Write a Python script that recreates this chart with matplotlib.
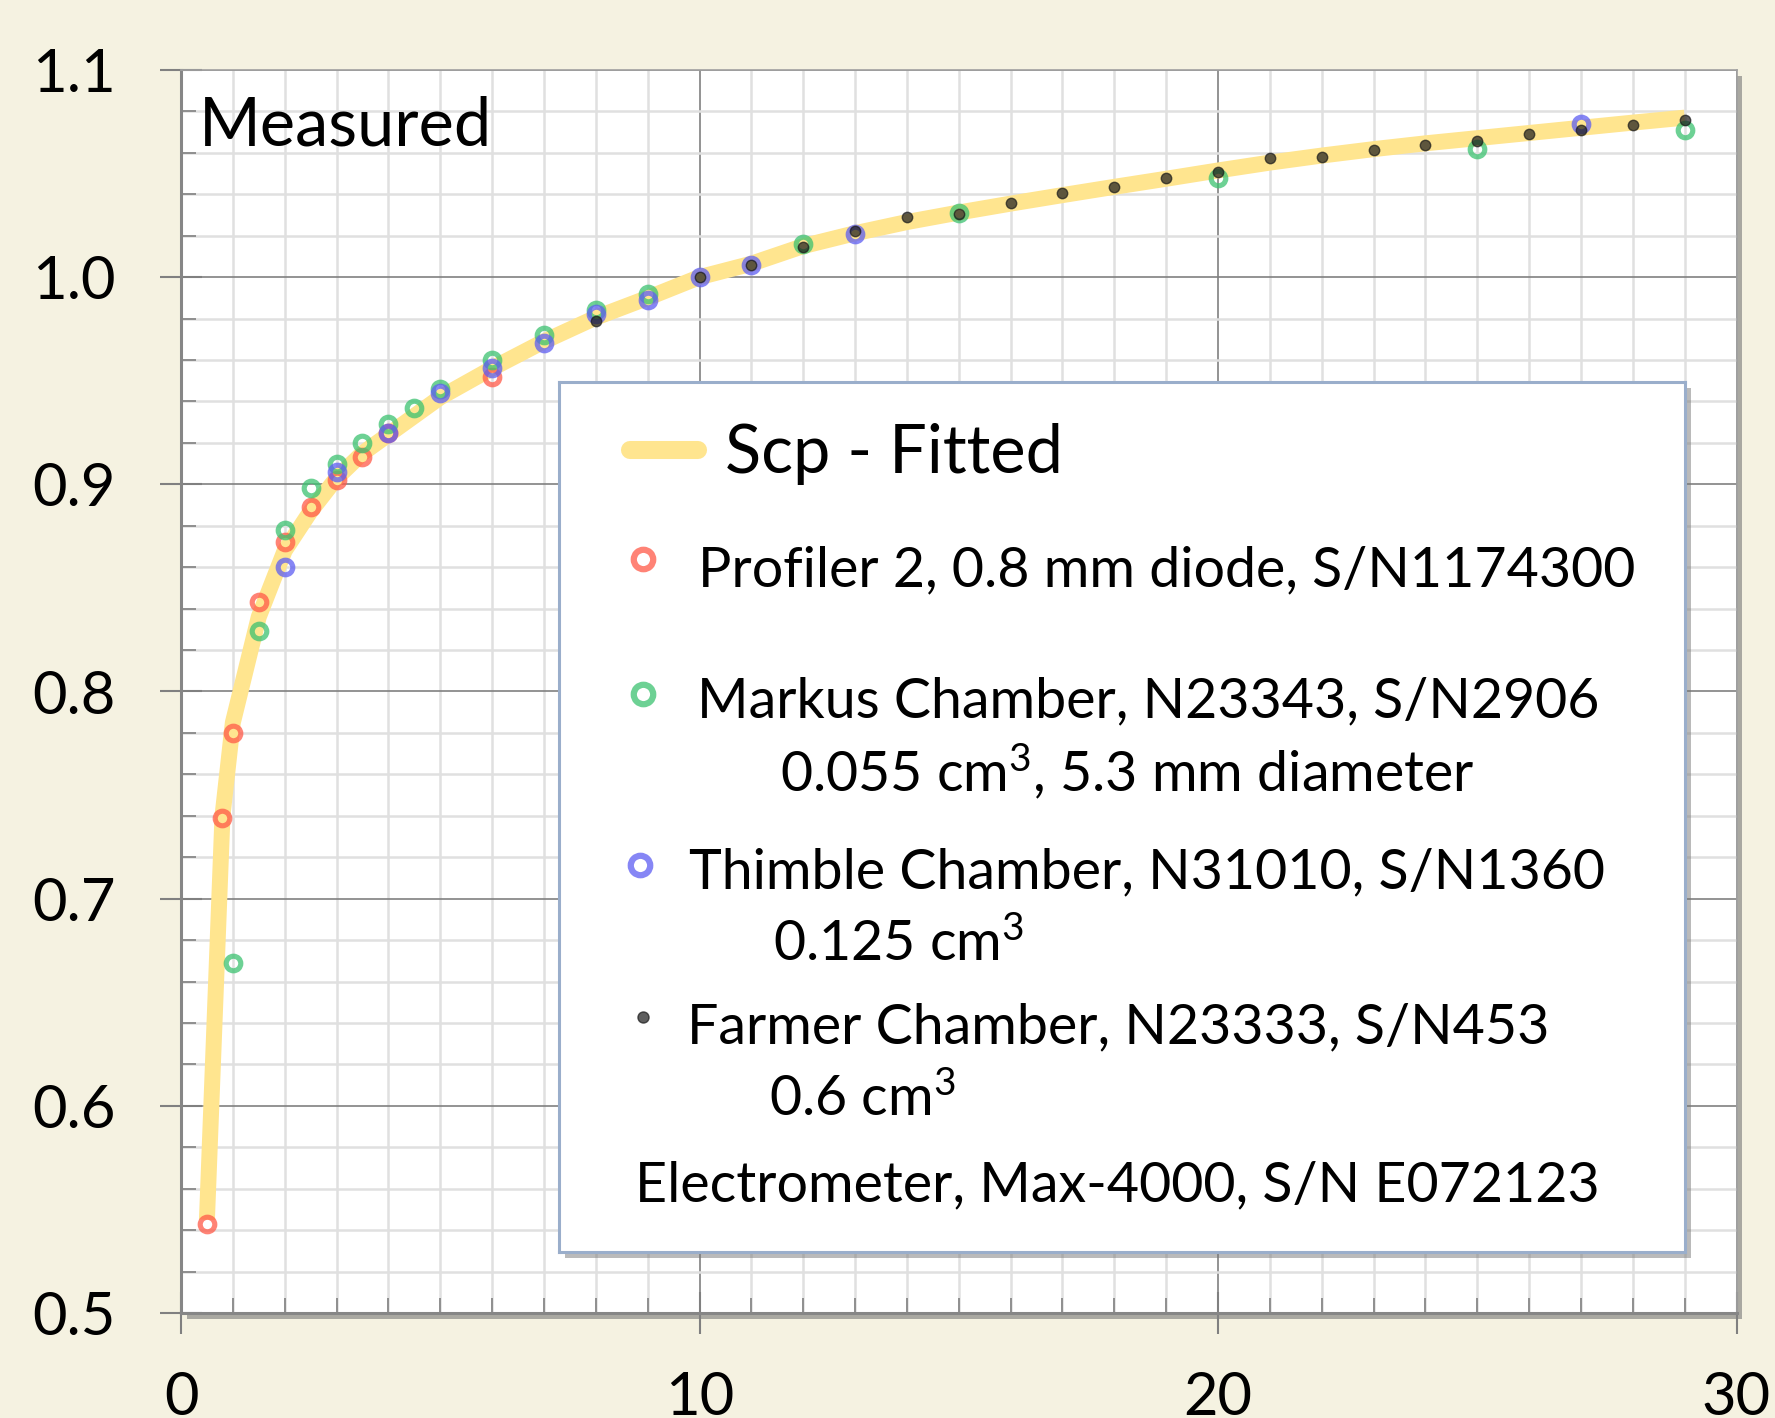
import matplotlib.pyplot as plt
import matplotlib.patheffects as pe
from matplotlib.ticker import MultipleLocator, FormatStrFormatter

plt.rcParams['font.family'] = ['Lato', 'DejaVu Sans']
plt.rcParams['mathtext.fontset'] = 'custom'
plt.rcParams['mathtext.rm'] = 'Lato'
plt.rcParams['mathtext.it'] = 'Lato'
plt.rcParams['mathtext.bf'] = 'Lato'

# fitted Scp curve
fit_x = [0.5, 0.8, 1, 1.5, 2, 2.5, 3, 3.5, 4, 5, 6, 7, 8, 9, 10, 11, 12, 13, 14, 15,
         16, 17, 18, 19, 20, 21, 22, 23, 24, 25, 26, 27, 28, 29]
fit_y = [0.545, 0.740, 0.785, 0.836, 0.868, 0.887, 0.903, 0.915, 0.924, 0.942, 0.956,
         0.969, 0.9805, 0.990, 1.000, 1.0065, 1.015, 1.0212, 1.0266, 1.0312, 1.0355, 1.0396,
         1.0436, 1.0475, 1.0515, 1.0553, 1.0587, 1.0618, 1.0646, 1.0671, 1.0696, 1.0721,
         1.0746, 1.077]

# measured points
profiler_x = [0.5, 0.8, 1, 1.5, 2, 2.5, 3, 3.5, 4, 6]
profiler_y = [0.543, 0.739, 0.780, 0.843, 0.872, 0.889, 0.902, 0.913, 0.925, 0.952]

markus_x = [1, 1.5, 2, 2.5, 3, 3.5, 4, 4.5, 5, 6, 7, 8, 9, 12, 15, 20, 25, 29]
markus_y = [0.669, 0.829, 0.878, 0.898, 0.910, 0.920, 0.929, 0.937, 0.946, 0.960, 0.972,
            0.984, 0.992, 1.016, 1.031, 1.048, 1.062, 1.071]

thimble_x = [2, 3, 4, 5, 6, 7, 8, 9, 10, 11, 13, 27]
thimble_y = [0.860, 0.906, 0.925, 0.944, 0.956, 0.968, 0.982, 0.989, 1.000, 1.006, 1.021, 1.074]

farmer_x = [8, 10, 11, 12, 13, 14, 15, 16, 17, 18, 19, 20, 21, 22, 23, 24, 25, 26, 27, 28, 29]
farmer_y = [0.979, 1.000, 1.006, 1.0145, 1.0225, 1.029, 1.0306, 1.036, 1.0406, 1.0437, 1.048,
            1.051, 1.0574, 1.058, 1.0615, 1.0636, 1.0657, 1.069, 1.071, 1.0736, 1.076]

legend_lines = [
    ('Profiler 2, 0.8 mm diode, S/N1174300', None),
    ('Markus Chamber, N23343, S/N2906', '0.055 cm$^{3}$, 5.3 mm diameter'),
    ('Thimble Chamber, N31010, S/N1360', '0.125 cm$^{3}$'),
    ('Farmer Chamber, N23333, S/N453', '0.6 cm$^{3}$'),
]

W, H = 1775, 1418
BG = '#F5F2E1'
YELLOW = '#FFE58F'
RED = '#FF5A48'
GREEN = '#3CC270'
BLUE = '#5E5EF2'


def box(l, t, r, b):
    return [l / W, 1 - b / H, (r - l) / W, (b - t) / H]


fig = plt.figure(figsize=(W / 100, H / 100), dpi=100, facecolor=BG)
ax = fig.add_axes(box(181, 70, 1736.5, 1313))
ax.patch.set_path_effects([pe.withSimplePatchShadow(offset=(4, -4), shadow_rgbFace='#777777', alpha=0.6)])

ax.plot(fit_x, fit_y, color=YELLOW, lw=11.5, solid_capstyle='butt', zorder=2)

ring = dict(ls='none', marker='o', ms=10.5, mew=3.7, mfc='none', alpha=0.75, zorder=3)
ax.plot(profiler_x, profiler_y, mec=RED, **ring)
ax.plot(markus_x, markus_y, mec=GREEN, **ring)
ax.plot(thimble_x, thimble_y, mec=BLUE, **ring)
ax.plot(farmer_x, farmer_y, ls='none', marker='o', ms=7.5, color='#1a1a1a', alpha=0.7, zorder=4)

ax.set_xlim(0, 30)
ax.set_ylim(0.5, 1.1)
ax.xaxis.set_major_locator(MultipleLocator(10))
ax.xaxis.set_minor_locator(MultipleLocator(1))
ax.yaxis.set_major_locator(MultipleLocator(0.1))
ax.yaxis.set_minor_locator(MultipleLocator(0.02))
ax.yaxis.set_major_formatter(FormatStrFormatter('%.1f'))

ax.grid(which='minor', color='#e0e0e0', lw=1.8, zorder=0)
ax.grid(which='major', color='#808080', lw=1.2, zorder=0)
ax.set_axisbelow(True)

ax.tick_params(which='major', direction='inout', length=30, width=1.5, color='#808080',
               labelsize=43)
ax.tick_params(axis='y', which='major', pad=32)
ax.tick_params(axis='x', which='major', pad=27)
ax.tick_params(which='minor', direction='in', length=11, width=1.2, color='#808080')

for side in ['left', 'bottom']:
    ax.spines[side].set_color('#868686')
    ax.spines[side].set_linewidth(2.2)
for side in ['top', 'right']:
    ax.spines[side].set_color('#a0a0a0')
    ax.spines[side].set_linewidth(1.2)

fig.text(199 / W, 1 - 146 / H, 'Measured', fontsize=48, va='baseline')

# legend box
lax = fig.add_axes(box(559, 382, 1685, 1252), zorder=5)
lax.set_xlim(559, 1685)
lax.set_ylim(1252, 382)
lax.set_xticks([])
lax.set_yticks([])
for s in lax.spines.values():
    s.set_color('#9aaecb')
    s.set_linewidth(2.2)
lax.patch.set_path_effects([pe.withSimplePatchShadow(offset=(4, -4), shadow_rgbFace='#777777', alpha=0.5)])

lax.plot([630, 698], [450, 450], color=YELLOW, lw=13, solid_capstyle='round')
lax.text(725, 473, 'Scp - Fitted', fontsize=48, va='baseline')

leg_ring = dict(ls='none', marker='o', ms=14, mew=4.5, mfc='none', alpha=0.75)
lax.plot([643], [559], mec=RED, **leg_ring)
lax.plot([643], [694], mec=GREEN, **leg_ring)
lax.plot([640], [865], mec=BLUE, **leg_ring)
lax.plot([643], [1017], ls='none', marker='o', ms=8, color='#1a1a1a', alpha=0.7)

first_pos = [(698, 586), (697, 717), (689, 888), (687, 1043)]
second_pos = [None, (780, 791), (773, 961), (769, 1116)]
for (l1, l2), p1, p2 in zip(legend_lines, first_pos, second_pos):
    lax.text(p1[0], p1[1], l1, fontsize=40, va='baseline')
    if l2:
        lax.text(p2[0], p2[1], l2, fontsize=40, va='baseline')
lax.text(635, 1201, 'Electrometer, Max-4000, S/N E072123', fontsize=40, va='baseline')

fig.savefig('out.png', dpi=100, facecolor=BG)
